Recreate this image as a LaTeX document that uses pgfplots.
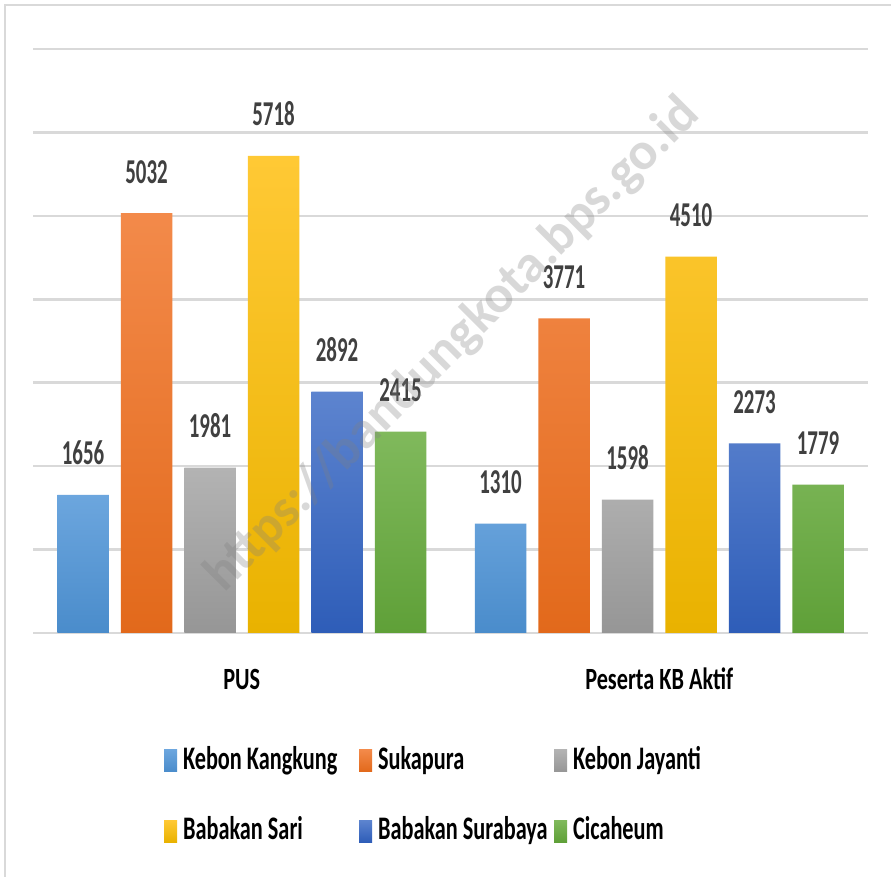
\documentclass[border=0pt]{standalone}
\usepackage{pgfplots}
\pgfplotsset{compat=1.18}
\usepackage{fontspec}
\setmainfont{Carlito}
\newfontfamily\condlab[FakeStretch=0.60]{Carlito}
\newfontfamily\condleg[FakeStretch=0.678]{Carlito}
\newfontfamily\condcat[FakeStretch=0.72]{Carlito}
\definecolor{kkT}{HTML}{6CA6DE}\definecolor{kkB}{HTML}{4A8CCB}
\definecolor{skT}{HTML}{F38A4A}\definecolor{skB}{HTML}{E2691B}
\definecolor{kjT}{HTML}{B3B3B3}\definecolor{kjB}{HTML}{969696}
\definecolor{bsT}{HTML}{FFC935}\definecolor{bsB}{HTML}{E9B200}
\definecolor{buT}{HTML}{5D84CF}\definecolor{buB}{HTML}{2E5DB8}
\definecolor{ciT}{HTML}{80B95C}\definecolor{ciB}{HTML}{5FA038}
\definecolor{gridc}{HTML}{D9D9D9}
\definecolor{labc}{HTML}{404040}
\newcommand{\lent}[1]{\makebox[180bp][l]{\hspace*{5bp}#1}}
\begin{document}
\begin{tikzpicture}[x=1bp,y=1bp]
\useasboundingbox (0,0) rectangle (891,877);
\fill[white] (0,0) rectangle (891,877);
\draw[gridc, line width=2bp] (5,0) -- (5,872) -- (891,872);
\begin{axis}[
  at={(33bp,244bp)}, anchor=south west,
  scale only axis, width=835bp, height=584bp,
  xmin=-0.5, xmax=1.5, ymin=0, ymax=7000,
  axis line style={draw=none},
  major tick length=0pt,
  ytick={0,1000,...,7000}, yticklabels={},
  ymajorgrids, grid style={gridc, line width=2.5bp},
  xtick={0,1}, xticklabels={PUS, Peserta KB Aktif},
  xticklabel style={anchor=base, yshift=-57bp, inner sep=0pt, font=\condcat\bfseries\fontsize{31}{31}\selectfont},
  ybar=12bp, bar width=51.5bp,
  nodes near coords={\pgfmathprintnumber[1000 sep={},assume math mode=true]{\pgfplotspointmeta}},
  every node near coord/.append style={anchor=base, yshift=30bp, inner sep=0pt, text=labc, font=\condlab\bfseries\fontsize{35}{35}\selectfont},
  legend columns=3,
  legend style={at={(0.1569,-0.1935)}, anchor=north west, draw=none, fill=none, inner sep=0pt, outer sep=0pt,
    column sep=1bp, row sep=45bp,
    cells={anchor=base west},
    nodes={inner sep=0pt, font=\condleg\bfseries\fontsize{33}{33}\selectfont}},
  legend image code/.code={\path[#1, draw=none] (0bp,-2.5bp) rectangle (13bp,19.5bp);},
]
\addplot[draw=none, top color=kkT, bottom color=kkB] coordinates {(0,1656) (1,1310)};
\addlegendentry{\lent{Kebon Kangkung}}
\addplot[draw=none, top color=skT, bottom color=skB] coordinates {(0,5032) (1,3771)};
\addlegendentry{\lent{Sukapura}}
\addplot[draw=none, top color=kjT, bottom color=kjB] coordinates {(0,1981) (1,1598)};
\addlegendentry{\lent{Kebon Jayanti}}
\addplot[draw=none, top color=bsT, bottom color=bsB] coordinates {(0,5718) (1,4510)};
\addlegendentry{\lent{Babakan Sari}}
\addplot[draw=none, top color=buT, bottom color=buB] coordinates {(0,2892) (1,2273)};
\addlegendentry{\lent{Babakan Surabaya}}
\addplot[draw=none, top color=ciT, bottom color=ciB] coordinates {(0,2415) (1,1779)};
\addlegendentry{\lent{Cicaheum}}
\end{axis}
\node[rotate=45, text=gray, opacity=0.3, font=\bfseries\fontsize{53}{53}\selectfont] at (453,532) {https://bandungkota.bps.go.id};
\end{tikzpicture}
\end{document}
